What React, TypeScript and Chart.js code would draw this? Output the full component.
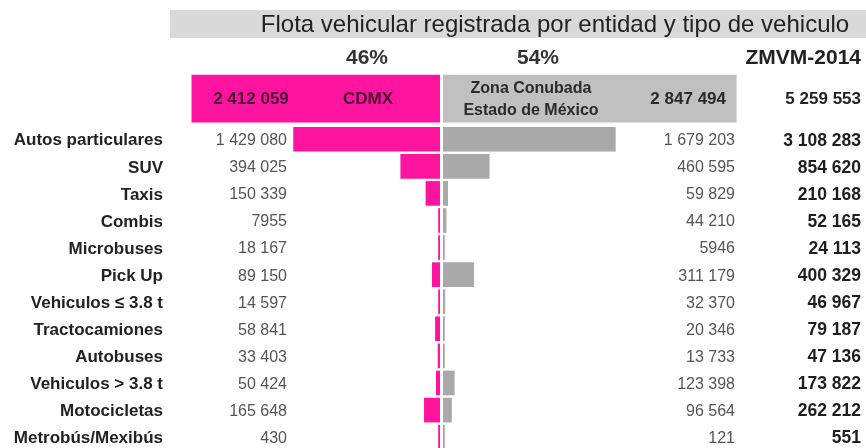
import React, { useEffect, useRef } from "react";
import { Chart, registerables } from "chart.js";

Chart.register(...registerables);

// ---------- data ----------
const categories = [
  "Autos particulares",
  "SUV",
  "Taxis",
  "Combis",
  "Microbuses",
  "Pick Up",
  "Vehiculos ≤ 3.8 t",
  "Tractocamiones",
  "Autobuses",
  "Vehiculos > 3.8 t",
  "Motocicletas",
  "Metrobús/Mexibús",
];
const cdmxValues = [1429080, 394025, 150339, 7955, 18167, 89150, 14597, 58841, 33403, 50424, 165648, 430];
const edomexValues = [1679203, 460595, 59829, 44210, 5946, 311179, 32370, 20346, 13733, 123398, 96564, 121];
const totalValues = [3108283, 854620, 210168, 52165, 24113, 400329, 46967, 79187, 47136, 173822, 262212, 551];
const cdmxTotal = 2412059;
const edomexTotal = 2847494;
const zmvmTotal = 5259553;
const shareLabels = ["46%", "54%"];
const titleText = "Flota vehicular registrada por entidad y tipo de vehiculo";
const totalColumnTitle = "ZMVM-2014";
const cdmxName = "CDMX";
const edomexName = ["Zona Conubada", "Estado de México"];

// ---------- style / layout ----------
const PINK = "#ff14a0";
const GRAY = "#a9a9a9";
const GRAY_HEADER = "#c0c0c0";
const BAND = "#d9d9d9";
const FONT = "'Liberation Sans', Arial, sans-serif";
const HEADER_ROW = -1.5;

const fmt = (n: number) =>
  n < 10000 ? String(n) : String(n).replace(/\B(?=(\d{3})+(?!\d))/g, " ");

const tablePlugin = {
  id: "tablePlugin",
  beforeDraw(chart: any) {
    const { ctx, chartArea } = chart;
    ctx.save();
    ctx.fillStyle = BAND;
    ctx.fillRect(chartArea.left, 10, chart.width - chartArea.left, 28);
    ctx.restore();
  },
  afterDatasetsDraw(chart: any) {
    const { ctx, chartArea, scales } = chart;
    const x0 = scales.x.getPixelForValue(0);
    ctx.save();
    ctx.fillStyle = "#ffffff";
    ctx.fillRect(x0 - 1.5, chartArea.top, 3, chartArea.bottom - chartArea.top);
    ctx.restore();
  },
  afterDraw(chart: any) {
    const { ctx, scales } = chart;
    const y = scales.y;
    ctx.save();
    ctx.textBaseline = "middle";

    // title
    ctx.fillStyle = "#222";
    ctx.font = `24px ${FONT}`;
    ctx.textAlign = "center";
    ctx.fillText(titleText, 555, 25);

    // shares + column title
    ctx.font = `bold 21px ${FONT}`;
    ctx.fillStyle = "#333";
    ctx.fillText(shareLabels[0], 367, 58);
    ctx.fillText(shareLabels[1], 538, 58);
    ctx.fillStyle = "#222";
    ctx.textAlign = "right";
    ctx.fillText(totalColumnTitle, 861, 58);

    // header row
    const hy = y.getPixelForValue(HEADER_ROW);
    ctx.font = `bold 17px ${FONT}`;
    ctx.fillStyle = "#4a0d33";
    ctx.textAlign = "center";
    ctx.fillText(fmt(cdmxTotal), 251, hy + 1);
    ctx.fillText(cdmxName, 368, hy + 1);
    ctx.fillStyle = "#2a2a2a";
    ctx.font = `bold 16px ${FONT}`;
    ctx.fillText(edomexName[0], 531, hy - 10);
    ctx.fillText(edomexName[1], 531, hy + 12);
    ctx.font = `bold 17px ${FONT}`;
    ctx.textAlign = "right";
    ctx.fillText(fmt(edomexTotal), 726, hy + 1);
    ctx.fillStyle = "#222";
    ctx.fillText(fmt(zmvmTotal), 861, hy + 1);

    // rows
    categories.forEach((name, i) => {
      const py = y.getPixelForValue(i) + 1.5;
      ctx.textAlign = "right";
      ctx.font = `bold 17px ${FONT}`;
      ctx.fillStyle = "#222";
      ctx.fillText(name, 163, py);
      ctx.font = `16px ${FONT}`;
      ctx.fillStyle = "#555";
      ctx.fillText(fmt(cdmxValues[i]), 287, py);
      ctx.fillText(fmt(edomexValues[i]), 735, py);
      ctx.font = `bold 17.5px ${FONT}`;
      ctx.fillStyle = "#1e1e1e";
      ctx.fillText(fmt(totalValues[i]), 861, py);
    });
    ctx.restore();
  },
};

export default function App() {
  const ref = useRef<HTMLCanvasElement | null>(null);

  useEffect(() => {
    document.body.style.margin = "0";
    if (!ref.current) return;
    const chart = new Chart(ref.current, {
      type: "bar",
      data: {
        datasets: [
          {
            label: "CDMX total",
            data: [{ x: -cdmxTotal, y: HEADER_ROW }],
            backgroundColor: PINK,
            barThickness: 47,
            grouped: false,
          } as any,
          {
            label: "Edo. Méx. total",
            data: [{ x: edomexTotal, y: HEADER_ROW }],
            backgroundColor: GRAY_HEADER,
            barThickness: 47,
            grouped: false,
          } as any,
          {
            label: "CDMX",
            data: cdmxValues.map((v, i) => ({ x: -v, y: i })),
            backgroundColor: PINK,
            barThickness: 24,
            minBarLength: 3,
            grouped: false,
          } as any,
          {
            label: "Estado de México",
            data: edomexValues.map((v, i) => ({ x: v, y: i })),
            backgroundColor: GRAY,
            barThickness: 24,
            minBarLength: 3,
            grouped: false,
          } as any,
        ],
      },
      options: {
        indexAxis: "y",
        animation: false,
        responsive: false,
        devicePixelRatio: 1,
        layout: { padding: { top: 58, bottom: 0, left: 170, right: 0 } },
        plugins: { legend: { display: false }, tooltip: { enabled: false } },
        scales: {
          x: {
            type: "linear",
            display: false,
            min: -2623000,
            max: 4101000,
          },
          y: {
            type: "linear",
            display: false,
            reverse: true,
            offset: false,
            min: -3,
            max: 11.4,
          },
        },
      } as any,
      plugins: [tablePlugin],
    });
    return () => chart.destroy();
  }, []);

  return (
    <div style={{ width: 866, height: 448, position: "relative" }}>
      <canvas ref={ref} width={866} height={448} />
    </div>
  );
}
